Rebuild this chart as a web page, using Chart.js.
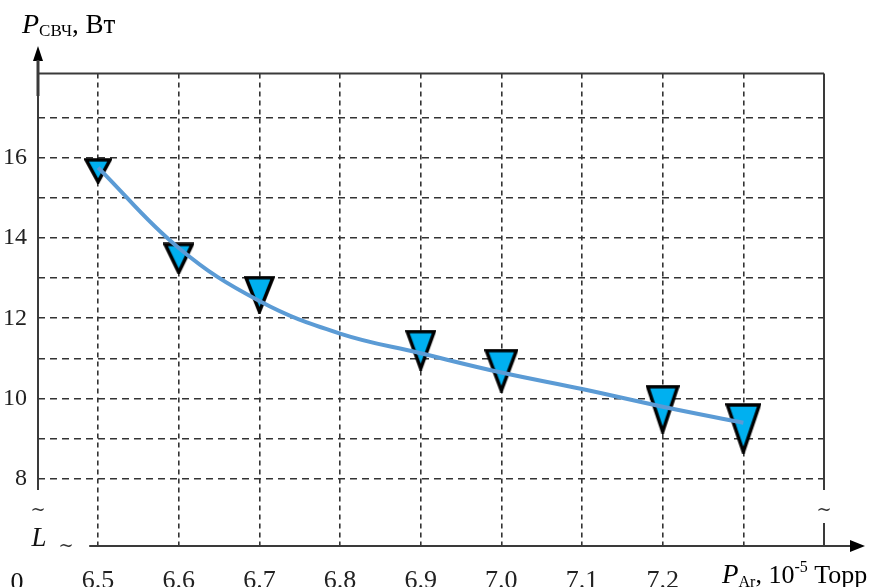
<!DOCTYPE html>
<html>
<head>
<meta charset="utf-8">
<script src="https://cdn.jsdelivr.net/npm/chart.js@4.4.0/dist/chart.umd.min.js"></script>
<style>
    body { margin: 0; background: #fff; }
    canvas { display: block; }
</style>
</head>
<body>
<canvas id="chart" width="875" height="587"></canvas>
<script>
// Measured points (P_Ar, 10^-5 Torr -> P_SVCh, W)
const pressure = [6.5, 6.6, 6.7, 6.9, 7.0, 7.2, 7.3];
const power = [15.67, 13.49, 12.59, 11.21, 10.70, 9.74, 9.26];

// Smooth fitted curve
const curveX = [6.5, 6.6, 6.7, 6.8, 6.9, 7.0, 7.1, 7.2, 7.3];
const curveY = [15.75, 13.75, 12.43, 11.62, 11.13, 10.65, 10.24, 9.80, 9.40];

// Axis ticks
const xTicks = [6.5, 6.6, 6.7, 6.8, 6.9, 7.0, 7.1, 7.2, 7.3];
const xTickLabels = ['6.5', '6.6', '6.7', '6.8', '6.9', '7.0', '7.1', '7.2', ''];
const yTicks = [8, 9, 10, 11, 12, 13, 14, 15, 16, 17];
const yTickLabels = ['8', '', '10', '', '12', '', '14', '', '16', ''];

const SERIF = '"Liberation Serif", "DejaVu Serif", serif';
const AXIS = '#3a3a3a';

// marker glyph: a slightly stretched down-pointing triangle
function makeTriangle(w, h) {
    const c = document.createElement('canvas');
    c.width = w;
    c.height = h;
    const g = c.getContext('2d');
    const m = 2;
    g.beginPath();
    g.moveTo(m, m);
    g.lineTo(w - m, m);
    g.lineTo(w / 2, h - m);
    g.closePath();
    g.fillStyle = '#00b0f0';
    g.fill();
    g.lineWidth = 3.5;
    g.lineJoin = 'miter';
    g.strokeStyle = '#000';
    g.stroke();
    return c;
}
const markerSizes = [[28, 26], [31, 32], [31, 38], [31, 41], [34, 44], [34, 49], [36, 51]];
const markers = markerSizes.map(s => makeTriangle(s[0], s[1]));

// draws a run of text pieces, each with own font and vertical shift
function drawRich(ctx, x, y, parts) {
    parts.forEach(p => {
        ctx.font = p.font;
        ctx.fillText(p.text, x, y + (p.dy || 0));
        x += ctx.measureText(p.text).width;
    });
}

const decorations = {
    id: 'decorations',
    afterDraw(chart) {
        const ctx = chart.ctx;
        const xs = chart.scales.x;
        const ys = chart.scales.y;
        const left = chart.chartArea.left;
        const right = chart.chartArea.right;
        const top = chart.chartArea.top;
        const bottom = chart.chartArea.bottom;
        const breakY = ys.getPixelForValue(7.73);
        const axisStart = xs.getPixelForValue(6.489);

        ctx.save();
        ctx.strokeStyle = AXIS;
        ctx.fillStyle = AXIS;
        ctx.lineWidth = 2;

        // frame: top, left axis, right side with break
        ctx.beginPath();
        ctx.moveTo(left, top);
        ctx.lineTo(right, top);
        ctx.moveTo(left, 56);
        ctx.lineTo(left, breakY);
        ctx.moveTo(right, top);
        ctx.lineTo(right, breakY);
        ctx.moveTo(right, bottom - 23);
        ctx.lineTo(right, bottom);
        ctx.moveTo(axisStart, bottom);
        ctx.lineTo(852, bottom);
        ctx.stroke();

        // arrows
        ctx.fillStyle = '#000';
        ctx.beginPath();
        ctx.moveTo(left, 46);
        ctx.lineTo(left - 5, 61);
        ctx.lineTo(left + 5, 61);
        ctx.closePath();
        ctx.fill();
        ctx.beginPath();
        ctx.moveTo(865, bottom);
        ctx.lineTo(850, bottom - 6);
        ctx.lineTo(850, bottom + 6);
        ctx.closePath();
        ctx.fill();
        ctx.lineWidth = 3;
        ctx.beginPath();
        ctx.moveTo(left, 60);
        ctx.lineTo(left, 96);
        ctx.stroke();

        // break marks and labels near origin
        ctx.fillStyle = '#333';
        ctx.textAlign = 'center';
        ctx.textBaseline = 'middle';
        ctx.font = '18px "DejaVu Serif", serif';
        ctx.fillText('~', left, 510);
        ctx.fillText('~', right, 510);
        ctx.fillText('~', 66, 546);
        ctx.fillStyle = '#111';
        ctx.textBaseline = 'alphabetic';
        ctx.font = 'italic 27px ' + SERIF;
        ctx.fillText('L', 39, 546);
        ctx.font = '26px ' + SERIF;
        ctx.fillText('0', 17, 590);

        // axis titles
        ctx.textAlign = 'left';
        ctx.fillStyle = '#000';
        drawRich(ctx, 22, 33, [
            { text: 'P', font: 'italic 28px ' + SERIF },
            { text: 'СВЧ', font: '17px ' + SERIF, dy: 3 },
            { text: ', Вт', font: '27px ' + SERIF }
        ]);
        drawRich(ctx, 722, 583, [
            { text: 'P', font: 'italic 27px ' + SERIF },
            { text: 'Ar', font: '16px ' + SERIF, dy: 4 },
            { text: ', 10', font: '26px ' + SERIF },
            { text: '-5', font: '16px ' + SERIF, dy: -11 },
            { text: ' Торр', font: '26px ' + SERIF }
        ]);
        ctx.restore();
    }
};

new Chart(document.getElementById('chart'), {
    type: 'scatter',
    data: {
        datasets: [
            {
                label: 'fit',
                type: 'line',
                data: curveX.map((x, i) => ({ x: x, y: curveY[i] })),
                borderColor: '#5b9bd5',
                borderWidth: 4,
                pointRadius: 0,
                fill: false,
                tension: 0.4,
                order: 0
            },
            {
                label: 'measured',
                data: pressure.map((x, i) => ({ x: x, y: power[i] })),
                pointStyle: markers,
                order: 1
            }
        ]
    },
    options: {
        responsive: false,
        animation: false,
        layout: { padding: { top: 73.5, right: 51, left: 0, bottom: 0 } },
        plugins: {
            legend: { display: false },
            tooltip: { enabled: false }
        },
        scales: {
            x: {
                type: 'linear',
                min: 6.4255,
                max: 7.4,
                afterBuildTicks: scale => { scale.ticks = xTicks.map(v => ({ value: v })); },
                afterFit: scale => { scale.height = 41; },
                ticks: {
                    padding: 20,
                    color: '#222',
                    font: { family: SERIF, size: 26 },
                    callback: (v, i) => xTickLabels[i]
                },
                grid: { color: '#333', lineWidth: 1.6, drawTicks: false },
                border: { display: false, dash: [5, 4] }
            },
            y: {
                type: 'linear',
                min: 6.335,
                max: 18.09,
                afterBuildTicks: scale => { scale.ticks = yTicks.map(v => ({ value: v })); },
                afterFit: scale => { scale.width = 38; },
                ticks: {
                    padding: 11,
                    color: '#222',
                    font: { family: SERIF, size: 24 },
                    callback: (v, i) => yTickLabels[i]
                },
                grid: { color: '#333', lineWidth: 1.6, drawTicks: false },
                border: { display: false, dash: [7, 5] }
            }
        }
    },
    plugins: [decorations]
});
</script>
</body>
</html>
